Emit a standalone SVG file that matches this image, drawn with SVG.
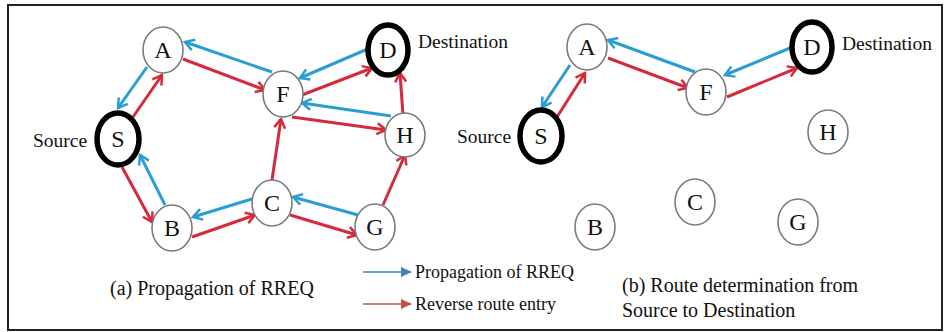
<svg xmlns="http://www.w3.org/2000/svg" width="950" height="332" viewBox="0 0 950 332">
  <defs>
    <style>
      .frame { fill: #ffffff; stroke: #222222; stroke-width: 2; }
      .node ellipse { fill: #ffffff; stroke: #7a7a7a; stroke-width: 1.6; }
      .node.end ellipse { stroke: #000000; stroke-width: 5.5; }
      .node text { font-size: 24px; fill: #111111; text-anchor: middle; }
      .lbl { font-size: 19.5px; fill: #111111; }
      .cap { font-size: 20px; fill: #111111; }
      .leg { font-size: 18px; fill: #111111; }
      .rq { stroke: #2a9dd4; stroke-width: 3; fill: none; marker-end: url(#hb); }
      .rv { stroke: #d42a3c; stroke-width: 3; fill: none; marker-end: url(#hr); }
    </style>
    <marker id="hb" viewBox="-12 -8 14 16" refX="0" refY="0" markerWidth="14" markerHeight="16" orient="auto" markerUnits="userSpaceOnUse">
      <path d="M-9,-5.5 L0,0 L-9,5.5" fill="none" stroke="#2a9dd4" stroke-width="2.5"/>
    </marker>
    <marker id="hr" viewBox="-12 -8 14 16" refX="0" refY="0" markerWidth="14" markerHeight="16" orient="auto" markerUnits="userSpaceOnUse">
      <path d="M-9,-5.5 L0,0 L-9,5.5" fill="none" stroke="#d42a3c" stroke-width="2.5"/>
    </marker>
    <marker id="lb" viewBox="0 -6 12 12" refX="10" refY="0" markerWidth="12" markerHeight="12" orient="auto" markerUnits="userSpaceOnUse">
      <path d="M0,-5 L11,0 L0,5 Z" fill="#4a7fbd"/>
    </marker>
    <marker id="lr" viewBox="0 -6 12 12" refX="10" refY="0" markerWidth="12" markerHeight="12" orient="auto" markerUnits="userSpaceOnUse">
      <path d="M0,-5 L11,0 L0,5 Z" fill="#c0504d"/>
    </marker>
  </defs>

  <rect class="frame" x="8" y="5" width="934" height="325"/>

  <!-- connectors: (a) propagation of RREQ and reverse entries -->
  <g id="connectors-a">
    <line class="rq" x1="272" y1="72" x2="185" y2="42"/>
    <line class="rv" x1="183" y1="59" x2="265" y2="90"/>
    <line class="rq" x1="147" y1="67" x2="118" y2="108"/>
    <line class="rv" x1="133" y1="117" x2="162" y2="75"/>
    <line class="rq" x1="370" y1="48" x2="300" y2="78"/>
    <line class="rv" x1="302" y1="95" x2="372" y2="68"/>
    <line class="rq" x1="391" y1="116" x2="302" y2="103"/>
    <line class="rv" x1="292" y1="117" x2="386" y2="130"/>
    <line class="rv" x1="403" y1="115" x2="400" y2="73"/>
    <line class="rv" x1="272" y1="180" x2="281" y2="119"/>
    <line class="rv" x1="122" y1="167" x2="152" y2="222"/>
    <line class="rq" x1="165" y1="205" x2="140" y2="155"/>
    <line class="rq" x1="255" y1="198" x2="193" y2="217"/>
    <line class="rv" x1="192" y1="237" x2="255" y2="215"/>
    <line class="rq" x1="358" y1="215" x2="293" y2="197"/>
    <line class="rv" x1="290" y1="215" x2="357" y2="235"/>
    <line class="rv" x1="383" y1="205" x2="405" y2="155"/>
  </g>

  <!-- connectors: (b) chosen route -->
  <g id="connectors-b">
    <line class="rq" x1="570" y1="65" x2="542" y2="107"/>
    <line class="rv" x1="557" y1="117" x2="585" y2="73"/>
    <line class="rq" x1="695" y1="72" x2="608" y2="40"/>
    <line class="rv" x1="608" y1="58" x2="688" y2="88"/>
    <line class="rq" x1="795" y1="46" x2="725" y2="75"/>
    <line class="rv" x1="727" y1="97" x2="797" y2="68"/>
  </g>

  <g font-family="'Liberation Serif', Tinos, 'Times New Roman', 'DejaVu Serif', serif">
    <!-- nodes of panel (a) -->
    <g id="a-A" class="node"><ellipse cx="163" cy="50" rx="20" ry="23"/><text x="163" y="58">A</text></g>
    <g id="a-F" class="node"><ellipse cx="283" cy="94" rx="20" ry="23"/><text x="283" y="102">F</text></g>
    <g id="a-S" class="node end"><ellipse cx="118" cy="139" rx="21" ry="26"/><text x="118" y="147">S</text></g>
    <g id="a-D" class="node end"><ellipse cx="388" cy="50" rx="20" ry="25"/><text x="388" y="58">D</text></g>
    <g id="a-H" class="node"><ellipse cx="405" cy="135" rx="20" ry="22"/><text x="405" y="143">H</text></g>
    <g id="a-B" class="node"><ellipse cx="172" cy="228" rx="20" ry="23"/><text x="172" y="236">B</text></g>
    <g id="a-C" class="node"><ellipse cx="272" cy="203" rx="20" ry="23"/><text x="272" y="211">C</text></g>
    <g id="a-G" class="node"><ellipse cx="375" cy="227" rx="20" ry="23"/><text x="375" y="235">G</text></g>

    <!-- nodes of panel (b) -->
    <g id="b-A" class="node"><ellipse cx="587" cy="47" rx="20" ry="23"/><text x="587" y="55">A</text></g>
    <g id="b-F" class="node"><ellipse cx="706" cy="92" rx="20" ry="23"/><text x="706" y="100">F</text></g>
    <g id="b-S" class="node end"><ellipse cx="541" cy="136" rx="21" ry="26"/><text x="541" y="144">S</text></g>
    <g id="b-D" class="node end"><ellipse cx="812" cy="47" rx="20" ry="25"/><text x="812" y="55">D</text></g>
    <g id="b-H" class="node"><ellipse cx="828" cy="132" rx="20" ry="22"/><text x="828" y="140">H</text></g>
    <g id="b-B" class="node"><ellipse cx="595" cy="227" rx="20" ry="23"/><text x="595" y="235">B</text></g>
    <g id="b-C" class="node"><ellipse cx="695" cy="202" rx="20" ry="23"/><text x="695" y="210">C</text></g>
    <g id="b-G" class="node"><ellipse cx="798" cy="222" rx="20" ry="23"/><text x="798" y="230">G</text></g>

    <!-- endpoint labels -->
    <text class="lbl" x="33" y="147">Source</text>
    <text class="lbl" x="418" y="48">Destination</text>
    <text class="lbl" x="457" y="143">Source</text>
    <text class="lbl" x="842" y="50">Destination</text>

    <!-- legend -->
    <g id="legend">
      <line x1="363" y1="272" x2="411" y2="272" stroke="#4a7fbd" stroke-width="1.6" marker-end="url(#lb)"/>
      <text class="leg" x="415" y="278">Propagation of RREQ</text>
      <line x1="363" y1="304" x2="411" y2="304" stroke="#c0504d" stroke-width="1.6" marker-end="url(#lr)"/>
      <text class="leg" x="415" y="310">Reverse route entry</text>
    </g>

    <!-- captions -->
    <text class="cap" x="110" y="295">(a) Propagation of RREQ</text>
    <text class="cap" x="622" y="292">(b) Route determination from</text>
    <text class="cap" x="622" y="317">Source to Destination</text>
  </g>
</svg>
